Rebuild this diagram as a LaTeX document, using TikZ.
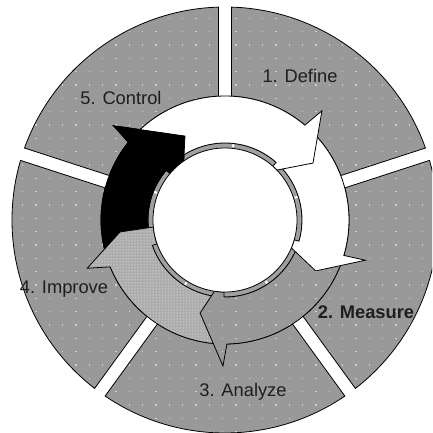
\documentclass[tikz,border=0pt]{standalone}
\usepackage{fontspec}
\setmainfont{Liberation Sans}
\usetikzlibrary{patterns}
\definecolor{secgray}{RGB}{153,153,153}
\definecolor{dotgray}{RGB}{208,208,208}
\definecolor{lightfill}{RGB}{172,172,172}
\definecolor{bandgray}{RGB}{160,160,160}
\definecolor{txt}{RGB}{30,30,30}
% sector between two gap angles (lower, upper), parallel gaps of width 13
\newcommand{\sectorpath}[2]{({#1+1.75}:213) arc[start angle={#1+1.75}, end angle={#2-1.75}, radius=213] -- ({#2-3.0}:124) arc[start angle={#2-3.0}, end angle={#1+3.0}, radius=124] -- cycle}
% arrow: tail, notch, wing, tip angle, tip radius, inner crossing angle
\newcommand{\arrowpath}[6]{(#1:124) arc[start angle=#1, end angle=#2, radius=124] -- (#3:146) -- (#4:#5) -- (#6:72) arc[start angle=#6, end angle=#3, radius=72] -- (#3:77) arc[start angle=#3, end angle=#1, radius=77] -- cycle}
\newcommand{\dotgrid}[4]{\foreach \i in {#1,...,#2} \foreach \j in {#3,...,#4} \fill[dotgray] ({-3.03+13.33*\i},{1.0+13.33*\j}) rectangle ++(1.4,1.4);}
\begin{document}
\begin{tikzpicture}[x=1pt,y=1pt,line join=miter,
  outline/.style={draw=black,line width=0.8pt},
  lbl/.style={font=\fontsize{18.3}{20}\selectfont,text=txt,inner sep=0pt,anchor=base}]
\useasboundingbox (-225,-213) rectangle (207,220);
\clip (-225,-213) rectangle (207,220);
\fill[white] (-225,-213) rectangle (207,220);
% outer sectors
\fill[secgray] \sectorpath{18}{90} \sectorpath{90}{162} \sectorpath{162}{234} \sectorpath{-126}{-54} \sectorpath{-54}{18};
\begin{scope}
  \clip \sectorpath{18}{90} \sectorpath{90}{162} \sectorpath{162}{234} \sectorpath{-126}{-54} \sectorpath{-54}{18};
  \dotgrid{-17}{16}{-17}{17}
\end{scope}
\draw[outline] \sectorpath{18}{90} \sectorpath{90}{162} \sectorpath{162}{234} \sectorpath{-126}{-54} \sectorpath{-54}{18};
% inner band
\fill[bandgray,even odd rule] (0,0) circle (77) (0,0) circle (72);
\draw[black,line width=0.6pt] (0,0) circle (77);
\foreach \a in {83.7,17.7,-56.3,-121.6,158.3}
  \draw[white,line width=2pt] (\a:73.2) -- (\a:76.2);
% arrows
\filldraw[fill=black,outline] \arrowpath{196}{141.2}{139.8}{115.5}{93}{125};
\fill[lightfill] \arrowpath{266}{202.2}{199.3}{186.5}{105.7}{185.6};
\fill[pattern=dots,pattern color=white] \arrowpath{266}{202.2}{199.3}{186.5}{105.7}{185.6};
\draw[outline] \arrowpath{266}{202.2}{199.3}{186.5}{105.7}{185.6};
\fill[secgray] \arrowpath{-19}{-89.1}{-90.8}{-105}{96.3}{-98.4};
\begin{scope}
  \clip \arrowpath{-19}{-89.1}{-90.8}{-105}{96.3}{-98.4};
  \dotgrid{-4}{12}{-12}{4}
\end{scope}
\draw[outline] \arrowpath{-19}{-89.1}{-90.8}{-105}{96.3}{-98.4};
\filldraw[fill=white,outline] \arrowpath{46}{-16.6}{-16}{-29.3}{104}{-22.8};
\filldraw[fill=white,outline] \arrowpath{137}{49.9}{48.4}{32.9}{104.8}{43.9};
% black head again on top of the white tail
\filldraw[fill=black,outline] \arrowpath{150}{141.2}{139.8}{115.5}{93}{125};
% inner circle
\filldraw[fill=white,draw=black,line width=0.8pt] (0,0) circle (72);
% labels
\node[lbl] (define) at (75,137) {1. Define};
\node[lbl] (control) at (-104,115) {5. Control};
\node[lbl,font=\fontsize{18.3}{20}\selectfont\bfseries] (measure) at (141,-98) {2. Measure};
\node[lbl] (analyze) at (18,-176) {3. Analyze};
\node[lbl] (improve) at (-161,-73) {4. Improve};
\end{tikzpicture}
\end{document}
